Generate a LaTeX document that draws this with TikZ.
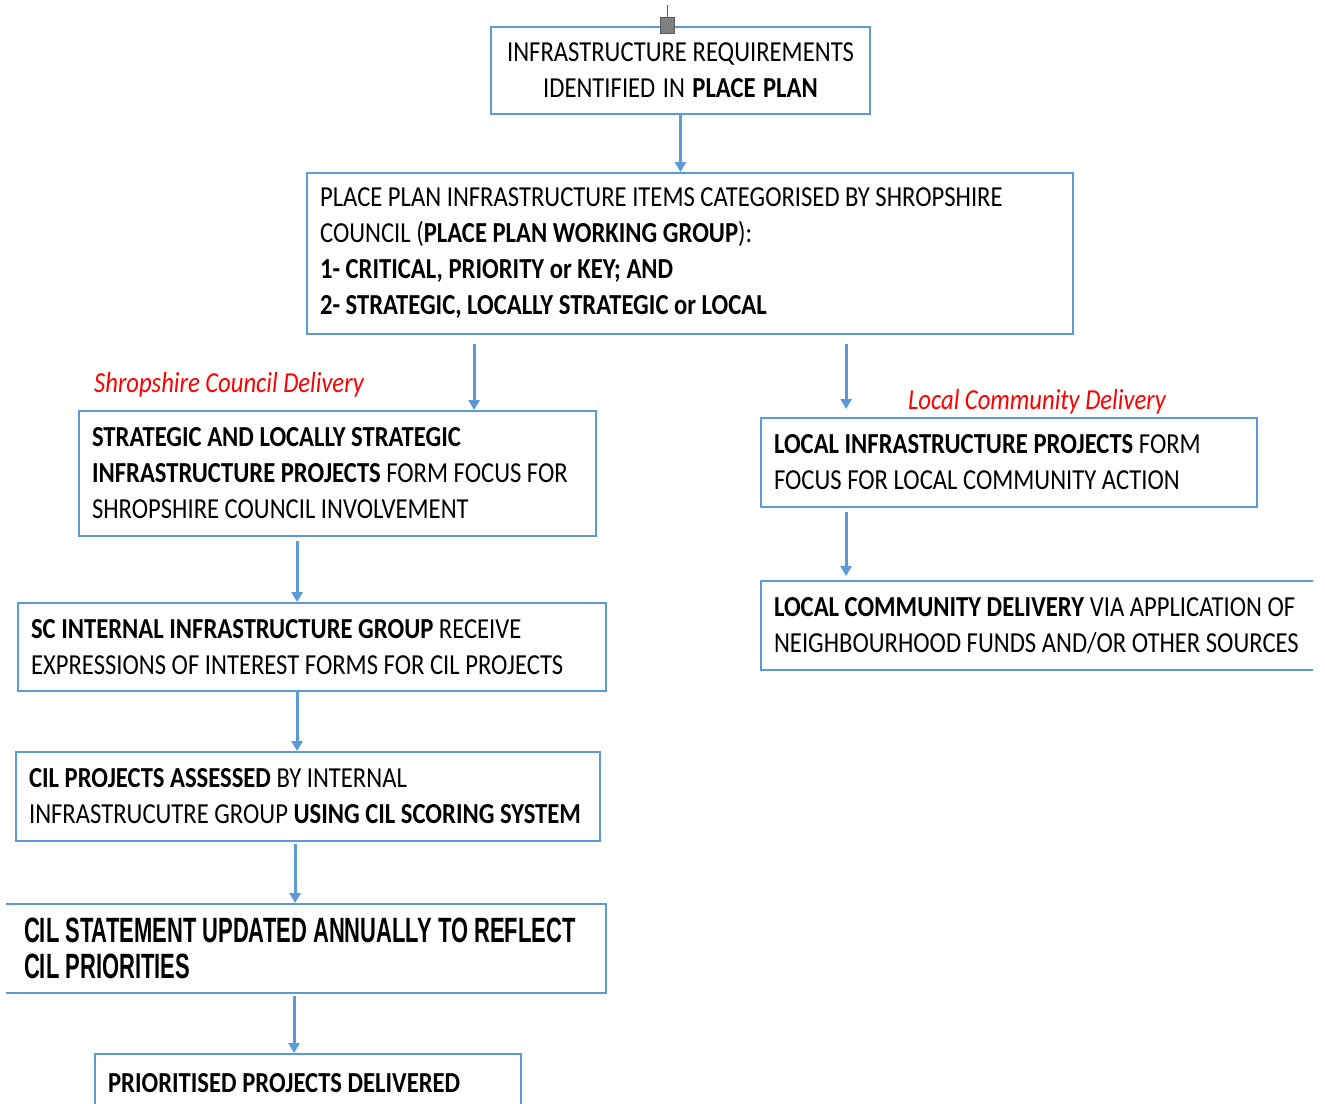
\documentclass[tikz,border=0pt]{standalone}
\usepackage{fontspec}
\setmainfont{Carlito}[FakeStretch=0.85]
\newfontfamily\narrowfont{Liberation Sans}[FakeStretch=0.625]
\usepackage{tikz}
\usetikzlibrary{arrows.meta,calc,positioning}
\definecolor{officeblue}{RGB}{91,155,213}
\definecolor{deliveryred}{RGB}{255,0,0}
\definecolor{handlegray}{RGB}{128,128,128}
\hyphenpenalty=10000

\begin{document}
\begin{tikzpicture}[x=0.02cm, y=-0.02cm,
    every node/.style={font=\fontsize{16.5}{20.5}\selectfont},
    box/.style={draw=officeblue, line width=1.1pt, fill=white, align=left,
                inner xsep=0.26cm, inner ysep=0pt,
                execute at begin node={\spaceskip=0pt\xspaceskip=0pt}},
    flow/.style={officeblue, line width=1.7pt, -{Triangle[length=0.2cm, width=0.22cm]}},
    redtag/.style={deliveryred, font=\fontsize{16.5}{20.5}\selectfont\itshape}]

  \useasboundingbox (0,0) rectangle (1325,1104);
  \fill[white] (0,0) rectangle (1325,1104);
  % page area: boxes run off its left and right edges
  \clip (6,0) rectangle (1313,1104);

  % ========== TOP : PLACE PLAN ==========
  \node[box, align=center, minimum width=7.58cm, minimum height=1.74cm, text width=7.06cm]
    (req) at (680.5,70.5)
    {INFRASTRUCTURE REQUIREMENTS\\ IDENTIFIED IN \textbf{PLACE PLAN}};

  % Selection handle
  \draw[handlegray!70!black, thin] (667,5) -- (667,17);
  \fill[handlegray, draw=handlegray!70!black, thin] (660,17) rectangle (674,33);

  \node[box, minimum width=15.32cm, minimum height=3.22cm, text width=14.8cm]
    (place) at (690,253.5)
    {PLACE PLAN INFRASTRUCTURE ITEMS CATEGORISED BY SHROPSHIRE\\
     COUNCIL (\textbf{PLACE PLAN WORKING GROUP}):\\
     \textbf{1- CRITICAL, PRIORITY or KEY; AND}\\
     \textbf{2- STRATEGIC, LOCALLY STRATEGIC or LOCAL}};

  % ========== LEFT : SHROPSHIRE COUNCIL ==========
  \node[redtag, anchor=west] (sctag) at (88,385) {Shropshire Council Delivery};

  \node[box, minimum width=10.34cm, minimum height=2.5cm, text width=9.82cm]
    (sc) at (337.5,473.5)
    {\textbf{STRATEGIC AND LOCALLY STRATEGIC}\\
     \textbf{INFRASTRUCTURE PROJECTS} FORM FOCUS FOR\\
     SHROPSHIRE COUNCIL INVOLVEMENT};

  \node[box, minimum width=11.76cm, minimum height=1.76cm, text width=11.24cm]
    (grp) at (312,647)
    {\textbf{SC INTERNAL INFRASTRUCTURE GROUP} RECEIVE\\
     EXPRESSIONS OF INTEREST FORMS FOR CIL PROJECTS};

  \node[box, minimum width=11.68cm, minimum height=1.78cm, text width=11.16cm]
    (assess) at (308,796.5)
    {\textbf{CIL PROJECTS ASSESSED} BY INTERNAL\\
     INFRASTRUCUTRE GROUP \textbf{USING CIL SCORING SYSTEM}};

  \node[box, inner xsep=0.52cm, minimum width=12.16cm, minimum height=1.78cm, text width=11.12cm,
        font=\narrowfont\bfseries\fontsize{20}{20.5}\selectfont]
    (stmt) at (302,948.5)
    {CIL STATEMENT UPDATED ANNUALLY TO REFLECT\\ CIL PRIORITIES};

  \node[box, minimum width=8.52cm, minimum height=1.16cm, text width=8.0cm]
    (prio) at (308,1083)
    {\textbf{PRIORITISED PROJECTS DELIVERED}};

  % ========== RIGHT : LOCAL COMMUNITY ==========
  \node[redtag] (lctag) at (1037,402) {Local Community Delivery};

  \node[box, minimum width=9.92cm, minimum height=1.78cm, text width=9.4cm]
    (local) at (1009,462.5)
    {\textbf{LOCAL INFRASTRUCTURE PROJECTS} FORM\\
     FOCUS FOR LOCAL COMMUNITY ACTION};

  \node[box, minimum width=11.58cm, minimum height=1.78cm, text width=11.06cm]
    (lcd) at (1050.5,625.5)
    {\textbf{LOCAL COMMUNITY DELIVERY} VIA APPLICATION OF\\
     NEIGHBOURHOOD FUNDS AND/OR OTHER SOURCES};

  % ========== ARROWS ==========
  \draw[flow] (req.south) -- (req.south |- place.north);

  \coordinate (a1) at ($(place.south west)+(168,9)$);
  \draw[flow] (a1) -- (a1 |- sc.north);
  \coordinate (a2) at ($(place.south west)+(540,9)$);
  \draw[flow, shorten >=0.16cm] (a2) -- (a2 |- local.north);

  \coordinate (a3) at ($(local.south west)+(86,4)$);
  \draw[flow, shorten >=0.08cm] (a3) -- (a3 |- lcd.north);

  \coordinate (a4) at ($(sc.south west)+(219,4)$);
  \draw[flow] (a4) -- (a4 |- grp.north);
  \coordinate (a5) at ($(grp.south west)+(280,0)$);
  \draw[flow] (a5) -- (a5 |- assess.north);
  \coordinate (a6) at ($(assess.south west)+(280,2)$);
  \draw[flow] (a6) -- (a6 |- stmt.north);
  \coordinate (a7) at ($(stmt.south west)+(297,2)$);
  \draw[flow] (a7) -- (a7 |- prio.north);

\end{tikzpicture}
\end{document}
